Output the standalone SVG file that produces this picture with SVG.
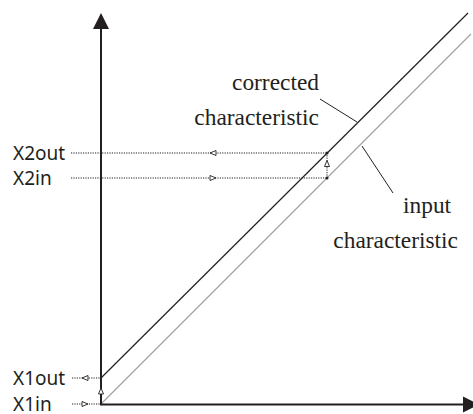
<svg xmlns="http://www.w3.org/2000/svg" width="473" height="414" viewBox="0 0 473 414">
  <style>
    .axis { stroke: #231f20; stroke-width: 2; fill: none; }
    .corr { stroke: #231f20; stroke-width: 1.2; fill: none; }
    .inp { stroke: #a0a0a0; stroke-width: 1.1; fill: none; }
    .lead { stroke: #231f20; stroke-width: 1; fill: none; }
    .dot { stroke: #231f20; stroke-width: 1; stroke-dasharray: 1.2 1.2; fill: none; }
    .tri { fill: #fff; stroke: #231f20; stroke-width: 0.9; }
    .sans { font-family: "Noto Sans", "Open Sans", "DejaVu Sans", sans-serif; font-size: 19px; fill: #231f20; }
    .serif { font-family: "Liberation Serif", "Times New Roman", serif; font-size: 23.4px; fill: #231f20; }
  </style>
  <rect width="473" height="414" fill="#fff"/>

  <g id="characteristics">
    <line id="input-characteristic" class="inp" x1="101" y1="404" x2="471" y2="34"/>
    <line id="corrected-characteristic" class="corr" x1="101" y1="378" x2="468" y2="13"/>
  </g>

  <g id="axes">
    <line class="axis" x1="101" y1="405" x2="101" y2="28"/>
    <polygon points="101,13 93,29 109,29" fill="#231f20"/>
    <line class="axis" x1="100" y1="404.5" x2="464" y2="404.5"/>
    <polygon points="479,404.5 463,396.5 463,412.5" fill="#231f20"/>
  </g>

  <g id="connectors">
    <!-- X2 guides -->
    <line class="dot" x1="71" y1="153" x2="327" y2="153"/>
    <line class="dot" x1="71" y1="178" x2="327" y2="178"/>
    <line class="dot" x1="327" y1="178" x2="327" y2="153"/>
    <polygon class="tri" points="210,153 216,150.5 216,155.5"/>
    <polygon class="tri" points="216,178 210,175.5 210,180.5"/>
    <polygon class="tri" points="327,160.5 324.5,166.5 329.5,166.5"/>
    <circle cx="327" cy="153" r="1.5" fill="#231f20"/>
    <circle cx="327" cy="178" r="1.5" fill="#231f20"/>
    <!-- X1 guides -->
    <line class="dot" x1="72" y1="378" x2="101" y2="378"/>
    <line class="dot" x1="72" y1="404" x2="101" y2="404"/>
    <polygon class="tri" points="82,378 88,375.5 88,380.5"/>
    <polygon class="tri" points="88,404 82,401.5 82,406.5"/>
    <polygon class="tri" points="101,388 98.5,394 103.5,394"/>
    <!-- leader lines -->
    <line class="lead" x1="320" y1="99" x2="357" y2="122"/>
    <line class="lead" x1="362" y1="146" x2="393" y2="193"/>
  </g>

  <g id="label-corrected">
    <text class="serif" x="319" y="90" text-anchor="end">corrected</text>
    <text class="serif" x="319" y="125" text-anchor="end">characteristic</text>
  </g>
  <g id="label-input">
    <text class="serif" x="403" y="213">input</text>
    <text class="serif" x="458" y="248" text-anchor="end">characteristic</text>
  </g>
  <g id="label-x2out"><text class="sans" x="13" y="159.5">X2out</text></g>
  <g id="label-x2in"><text class="sans" x="13" y="184.5">X2in</text></g>
  <g id="label-x1out"><text class="sans" x="13" y="384.5">X1out</text></g>
  <g id="label-x1in"><text class="sans" x="13" y="410.5">X1in</text></g>
</svg>
